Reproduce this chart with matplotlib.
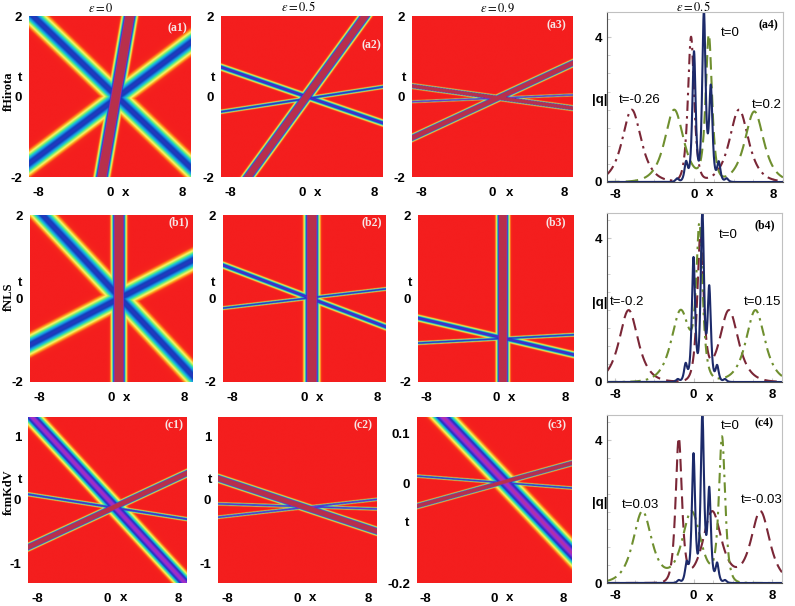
import numpy as np
import matplotlib
matplotlib.use("Agg")
import matplotlib.pyplot as plt
from matplotlib.colors import LinearSegmentedColormap

plt.rcParams["mathtext.fontset"] = "stix"

W, H = 795, 606

# ---- heat-map panels: soliton lines as (x1, t1, x2, t2)
x_range = (-9.0, 9.0)
t_ranges = {"a": (-2.0, 2.0), "b": (-2.0, 2.0), "c1": (-1.3, 1.3),
            "c2": (-1.3, 1.3), "c3": (-0.2, 0.132)}

a1_lines = [(-8.55, 2.0, 8.9, -1.75), (-8.9, -1.65, 8.9, 1.33), (2.2, 2.0, -0.9, -2.0)]
a1_amp = [0.68, 0.68, 2.0]
a1_wid = [8.0, 8.0, 5.0]

a2_lines = [(7.0, 2.0, -6.0, -2.0), (-9, 0.73, 9, -0.66), (-9, -0.38, 9, 0.24)]
a2_amp = [2.2, 0.78, 0.75]
a2_wid = [3.6, 2.6, 1.6]

a3_lines = [(-9, -1.03, 9, 0.83), (-9, 0.26, 9, -0.29), (-9, -0.13, 9, 0.04)]
a3_amp = [2.5, 2.5, 0.9]
a3_wid = [2.3, 1.7, 1.0]

b1_lines = [(0.82, 2.0, 0.82, -2.0), (-7.6, 2.0, 8.9, -1.83), (-9, -1.11, 9, 0.92)]
b1_amp = [2.0, 0.68, 0.68]
b1_wid = [5.0, 8.0, 8.0]

b2_lines = [(0.82, 2.0, 0.82, -2.0), (-9, 0.8, 9, -0.68), (-9, -0.23, 9, 0.23)]
b2_amp = [2.0, 0.78, 0.75]
b2_wid = [5.2, 2.6, 1.4]

b3_lines = [(0.8, 2.0, 0.8, -2.0), (-9, -0.47, 9, -1.35), (-9, -1.07, 9, -0.87)]
b3_amp = [2.0, 0.78, 0.75]
b3_wid = [4.4, 2.6, 1.4]

c1_lines = [(-8.55, 1.3, 8.44, -1.25), (-9, -0.74, 9, 0.42), (-9, 0.09, 9, -0.3)]
c1_amp = [0.9, 2.5, 0.8]
c1_wid = [6.5, 2.4, 1.5]

c2_lines = [(-9, 0.34, 9, -0.49), (-9, -0.27, 9, 0.01), (-9, -0.06, 9, -0.14)]
c2_amp = [2.5, 0.85, 0.85]
c2_wid = [2.6, 1.2, 1.2]

c3_lines = [(-5.98, 0.132, 9, -0.14), (-9, -0.046, 9, 0.04), (-9, 0.014, 9, -0.01)]
c3_amp = [0.92, 2.5, 0.8]
c3_wid = [7.5, 1.8, 1.2]

# ---- |q| profiles at fixed t: pulse centres and heights
a4_dashdot_x = [-6.3, -0.3, 4.55]
a4_dashdot_h = [2.0, 4.0, 2.0]
a4_dash_x = [-2.0, 1.5, 6.1]
a4_dash_h = [2.0, 4.0, 1.95]
a4_solid_x = [-1.7, -0.8, 0.0, 1.0, 1.7, 2.5, 3.3]
a4_solid_h = [0.1, 0.55, 3.6, 4.7, 2.6, 0.55, 0.1]

b4_dash_x = [-6.6, 0.7, 3.6]
b4_dash_h = [2.0, 4.0, 2.0]
b4_dashdot_x = [-1.3, 0.6, 6.3]
b4_dashdot_h = [2.0, 4.0, 2.0]
b4_solid_x = [-1.6, -0.8, 0.0, 0.9, 1.6, 2.4, 3.2]
b4_solid_h = [0.08, 0.5, 3.45, 4.7, 2.6, 0.45, 0.08]

c4_dash_x = [-1.5, 1.9, 6.8]
c4_dash_h = [4.0, 2.0, 2.0]
c4_dashdot_x = [-5.2, -0.2, 2.9]
c4_dashdot_h = [2.0, 2.0, 4.0]
c4_solid_x = [-1.5, -0.7, 0.0, 0.9, 1.6, 2.4, 3.2]
c4_solid_h = [0.08, 0.55, 3.6, 4.7, 2.6, 0.55, 0.08]

wide_w, tall_w, blue_w = 0.85, 0.28, 0.15

cmap = LinearSegmentedColormap.from_list("soliton", [
    (0.00, "#f41e1e"), (0.06, "#f62a1c"), (0.14, "#ffa818"), (0.22, "#fff470"),
    (0.32, "#90f060"), (0.42, "#20d8c0"), (0.54, "#1a90e8"), (0.64, "#1040b8"),
    (0.76, "#4a28c8"), (0.86, "#8a30e0"), (0.93, "#b830a0"), (1.00, "#b8304c")])

fig = plt.figure(figsize=(W / 100, H / 100), dpi=100)


def add_ax(l, t, r, b):
    return fig.add_axes([l / W, 1 - b / H, (r - l) / W, (b - t) / H])


def ftext(x, y, s, **kw):
    fig.text(x / W, 1 - y / H, s, **kw)


def sech(z):
    return 1.0 / np.cosh(np.clip(z, -50, 50))


def heat(box, lines, amps, wids, trange, tticks, tlabels):
    ax = add_ax(*box)
    wpx, hpx = box[2] - box[0], box[3] - box[1]
    xs = np.linspace(x_range[0], x_range[1], 400)
    ts = np.linspace(trange[0], trange[1], 400)
    X, T = np.meshgrid(xs, ts)

    def to_px(x, t):
        return ((x - x_range[0]) / (x_range[1] - x_range[0]) * wpx,
                (t - trange[0]) / (trange[1] - trange[0]) * hpx)

    PX, PY = to_px(X, T)
    Z = np.zeros_like(X)
    for (x1, t1, x2, t2), a, w in zip(lines, amps, wids):
        p1 = np.array(to_px(x1, t1))
        p2 = np.array(to_px(x2, t2))
        d = p2 - p1
        n = np.array([-d[1], d[0]]) / np.hypot(*d)
        dist = (PX - p1[0]) * n[0] + (PY - p1[1]) * n[1]
        Z = np.maximum(Z, a * np.exp(-(dist / w) ** 2))
    ax.imshow(np.clip(Z, 0, 1), cmap=cmap, vmin=0, vmax=1, origin="lower",
              extent=[x_range[0], x_range[1], trange[0], trange[1]],
              aspect="auto", interpolation="bilinear")
    ax.set_xlim(*x_range)
    ax.set_ylim(*trange)
    for s in ax.spines.values():
        s.set_visible(False)
    ax.set_xticks([-8, 0, 8])
    ax.set_xticklabels(["-8", "0", "8"])
    ax.set_yticks(tticks)
    ax.set_yticklabels(tlabels)
    ax.tick_params(length=0, labelsize=9.5)
    ax.tick_params(axis="x", pad=7)
    ax.tick_params(axis="y", pad=5)
    for lab in ax.get_xticklabels() + ax.get_yticklabels():
        lab.set_fontfamily("Liberation Sans")
        lab.set_fontweight("bold")
    return ax


def profile(box, curves):
    ax = add_ax(*box)
    xs = np.linspace(-8.8, 9.0, 1500)
    for cx, ch, cw, color, ls in curves:
        y = np.zeros_like(xs)
        for c, h, w in zip(cx, ch, cw):
            y += h * sech((xs - c) / w)
        ax.plot(xs, y, color=color, lw=1.5, linestyle=ls)
    ax.set_xlim(-8.8, 9.0)
    ax.set_ylim(0, 4.7)
    ax.set_xticks([-8, 0, 8])
    ax.set_xticklabels(["-8", "0", "8"])
    ax.set_yticks([0, 4])
    ax.set_yticklabels(["0", "4"])
    ax.set_xticks(np.arange(-8, 9, 2), minor=True)
    ax.set_yticks(np.arange(0, 4.7, 0.5), minor=True)
    ax.tick_params(which="both", direction="in", color="#c8c8c8", labelsize=9.5)
    ax.tick_params(which="major", length=3)
    ax.tick_params(which="minor", length=2)
    ax.tick_params(axis="x", pad=5)
    for k, s in ax.spines.items():
        s.set_color("#505050" if k in ("left", "bottom") else "#c0c0c0")
        s.set_linewidth(0.8)
    for lab in ax.get_xticklabels() + ax.get_yticklabels():
        lab.set_fontfamily("Liberation Sans")
        lab.set_fontweight("bold")
    return ax


maroon, olive, navy = "#7a2636", "#6f8f2f", "#1c2a6a"
dash = (0, (6, 3))
dashdot = (0, (5, 2.5, 1.2, 2.5))

boxes = {
    "a1": (29, 16, 191, 177), "a2": (221, 16, 383, 177), "a3": (412, 16, 573, 177),
    "a4": (607, 12, 783, 182),
    "b1": (30, 215, 193, 382), "b2": (223, 215, 386, 382), "b3": (418, 215, 574, 382),
    "b4": (607, 213, 782, 382),
    "c1": (28, 417, 187, 583), "c2": (218, 417, 377, 583), "c3": (417, 417, 572, 583),
    "c4": (607, 415, 782, 583),
}

ab_ticks, ab_labels = [-2, 0, 2], ["-2", "0", "2"]
c_ticks, c_labels = [-1, 0, 1], ["-1", "0", "1"]
heat(boxes["a1"], a1_lines, a1_amp, a1_wid, t_ranges["a"], ab_ticks, ab_labels)
heat(boxes["a2"], a2_lines, a2_amp, a2_wid, t_ranges["a"], ab_ticks, ab_labels)
heat(boxes["a3"], a3_lines, a3_amp, a3_wid, t_ranges["a"], ab_ticks, ab_labels)
heat(boxes["b1"], b1_lines, b1_amp, b1_wid, t_ranges["b"], ab_ticks, ab_labels)
heat(boxes["b2"], b2_lines, b2_amp, b2_wid, t_ranges["b"], ab_ticks, ab_labels)
heat(boxes["b3"], b3_lines, b3_amp, b3_wid, t_ranges["b"], ab_ticks, ab_labels)
heat(boxes["c1"], c1_lines, c1_amp, c1_wid, t_ranges["c1"], c_ticks, c_labels)
heat(boxes["c2"], c2_lines, c2_amp, c2_wid, t_ranges["c2"], c_ticks, c_labels)
heat(boxes["c3"], c3_lines, c3_amp, c3_wid, t_ranges["c3"], [-0.2, 0, 0.1], ["-0.2", "0", "0.1"])

profile(boxes["a4"], [
    (a4_dashdot_x, a4_dashdot_h, [wide_w, tall_w, wide_w], maroon, dashdot),
    (a4_dash_x, a4_dash_h, [wide_w, tall_w, wide_w], olive, dash),
    (a4_solid_x, a4_solid_h, [blue_w] * 7, navy, "-")])
profile(boxes["b4"], [
    (b4_dash_x, b4_dash_h, [wide_w, tall_w, wide_w], maroon, dash),
    (b4_dashdot_x, b4_dashdot_h, [wide_w, tall_w, wide_w], olive, dashdot),
    (b4_solid_x, b4_solid_h, [blue_w] * 7, navy, "-")])
profile(boxes["c4"], [
    (c4_dash_x, c4_dash_h, [tall_w, wide_w, wide_w], maroon, dash),
    (c4_dashdot_x, c4_dashdot_h, [wide_w, wide_w, tall_w], olive, dashdot),
    (c4_solid_x, c4_solid_h, [blue_w] * 7, navy, "-")])

# axis letters
sans_b = dict(fontfamily="Liberation Sans", fontweight="bold", fontsize=9.5,
              ha="center", va="center")
for xp, yp in [(126, 193), (318, 193), (510, 193), (710, 193),
               (127, 398), (320, 398), (512, 398), (710, 398),
               (124, 598), (313, 598), (510, 598), (710, 598)]:
    ftext(xp, yp, "x", **sans_b)
for xp, yp in [(20, 78), (213, 78), (404, 78), (20, 283), (213, 283), (410, 283),
               (20, 480), (210, 480), (407, 523)]:
    ftext(xp, yp, "t", **sans_b)
for xp, yp in [(600, 100), (600, 303), (600, 503)]:
    ftext(xp, yp, "|q|", **sans_b)

serif_b = dict(fontfamily="Liberation Serif", fontweight="bold", fontsize=9,
               ha="center", va="center", rotation=90)
ftext(9, 91, "fHirota", **serif_b)
ftext(9, 297, "fNLS", **serif_b)
ftext(9, 492, "fcmKdV", **serif_b)

eps = dict(fontsize=9, ha="center", va="center")
ftext(101, 8, r"$\varepsilon = 0$", **eps)
ftext(298, 7, r"$\varepsilon = 0.5$", **eps)
ftext(497, 8, r"$\varepsilon = 0.9$", **eps)
ftext(693, 7, r"$\varepsilon = 0.5$", **eps)

tag = dict(fontfamily="Liberation Serif", fontweight="bold", fontsize=8.5,
           ha="center", va="center")
for name, xp, yp in [("(a1)", 177, 28), ("(a2)", 371, 45), ("(a3)", 556, 25),
                     ("(b1)", 179, 222), ("(b2)", 372, 222), ("(b3)", 556, 222),
                     ("(c1)", 174, 425), ("(c2)", 363, 425), ("(c3)", 557, 425)]:
    ftext(xp, yp, name, color="#f6e6e6", **tag)
for name, xp, yp in [("(a4)", 768, 25), ("(b4)", 765, 225), ("(c4)", 764, 423)]:
    ftext(xp, yp, name, color="black", **tag)

lab = dict(fontfamily="Liberation Sans", fontsize=9.5, ha="center", va="center")
ftext(730, 33, "t=0", **lab)
ftext(640, 100, "t=-0.26", **lab)
ftext(767, 105, "t=0.2", **lab)
ftext(728, 235, "t=0", **lab)
ftext(627, 302, "t=-0.2", **lab)
ftext(762, 302, "t=0.15", **lab)
ftext(730, 426, "t=0", **lab)
ftext(640, 505, "t=0.03", **lab)
ftext(762, 500, "t=-0.03", **lab)

fig.savefig("out.png", dpi=100)
